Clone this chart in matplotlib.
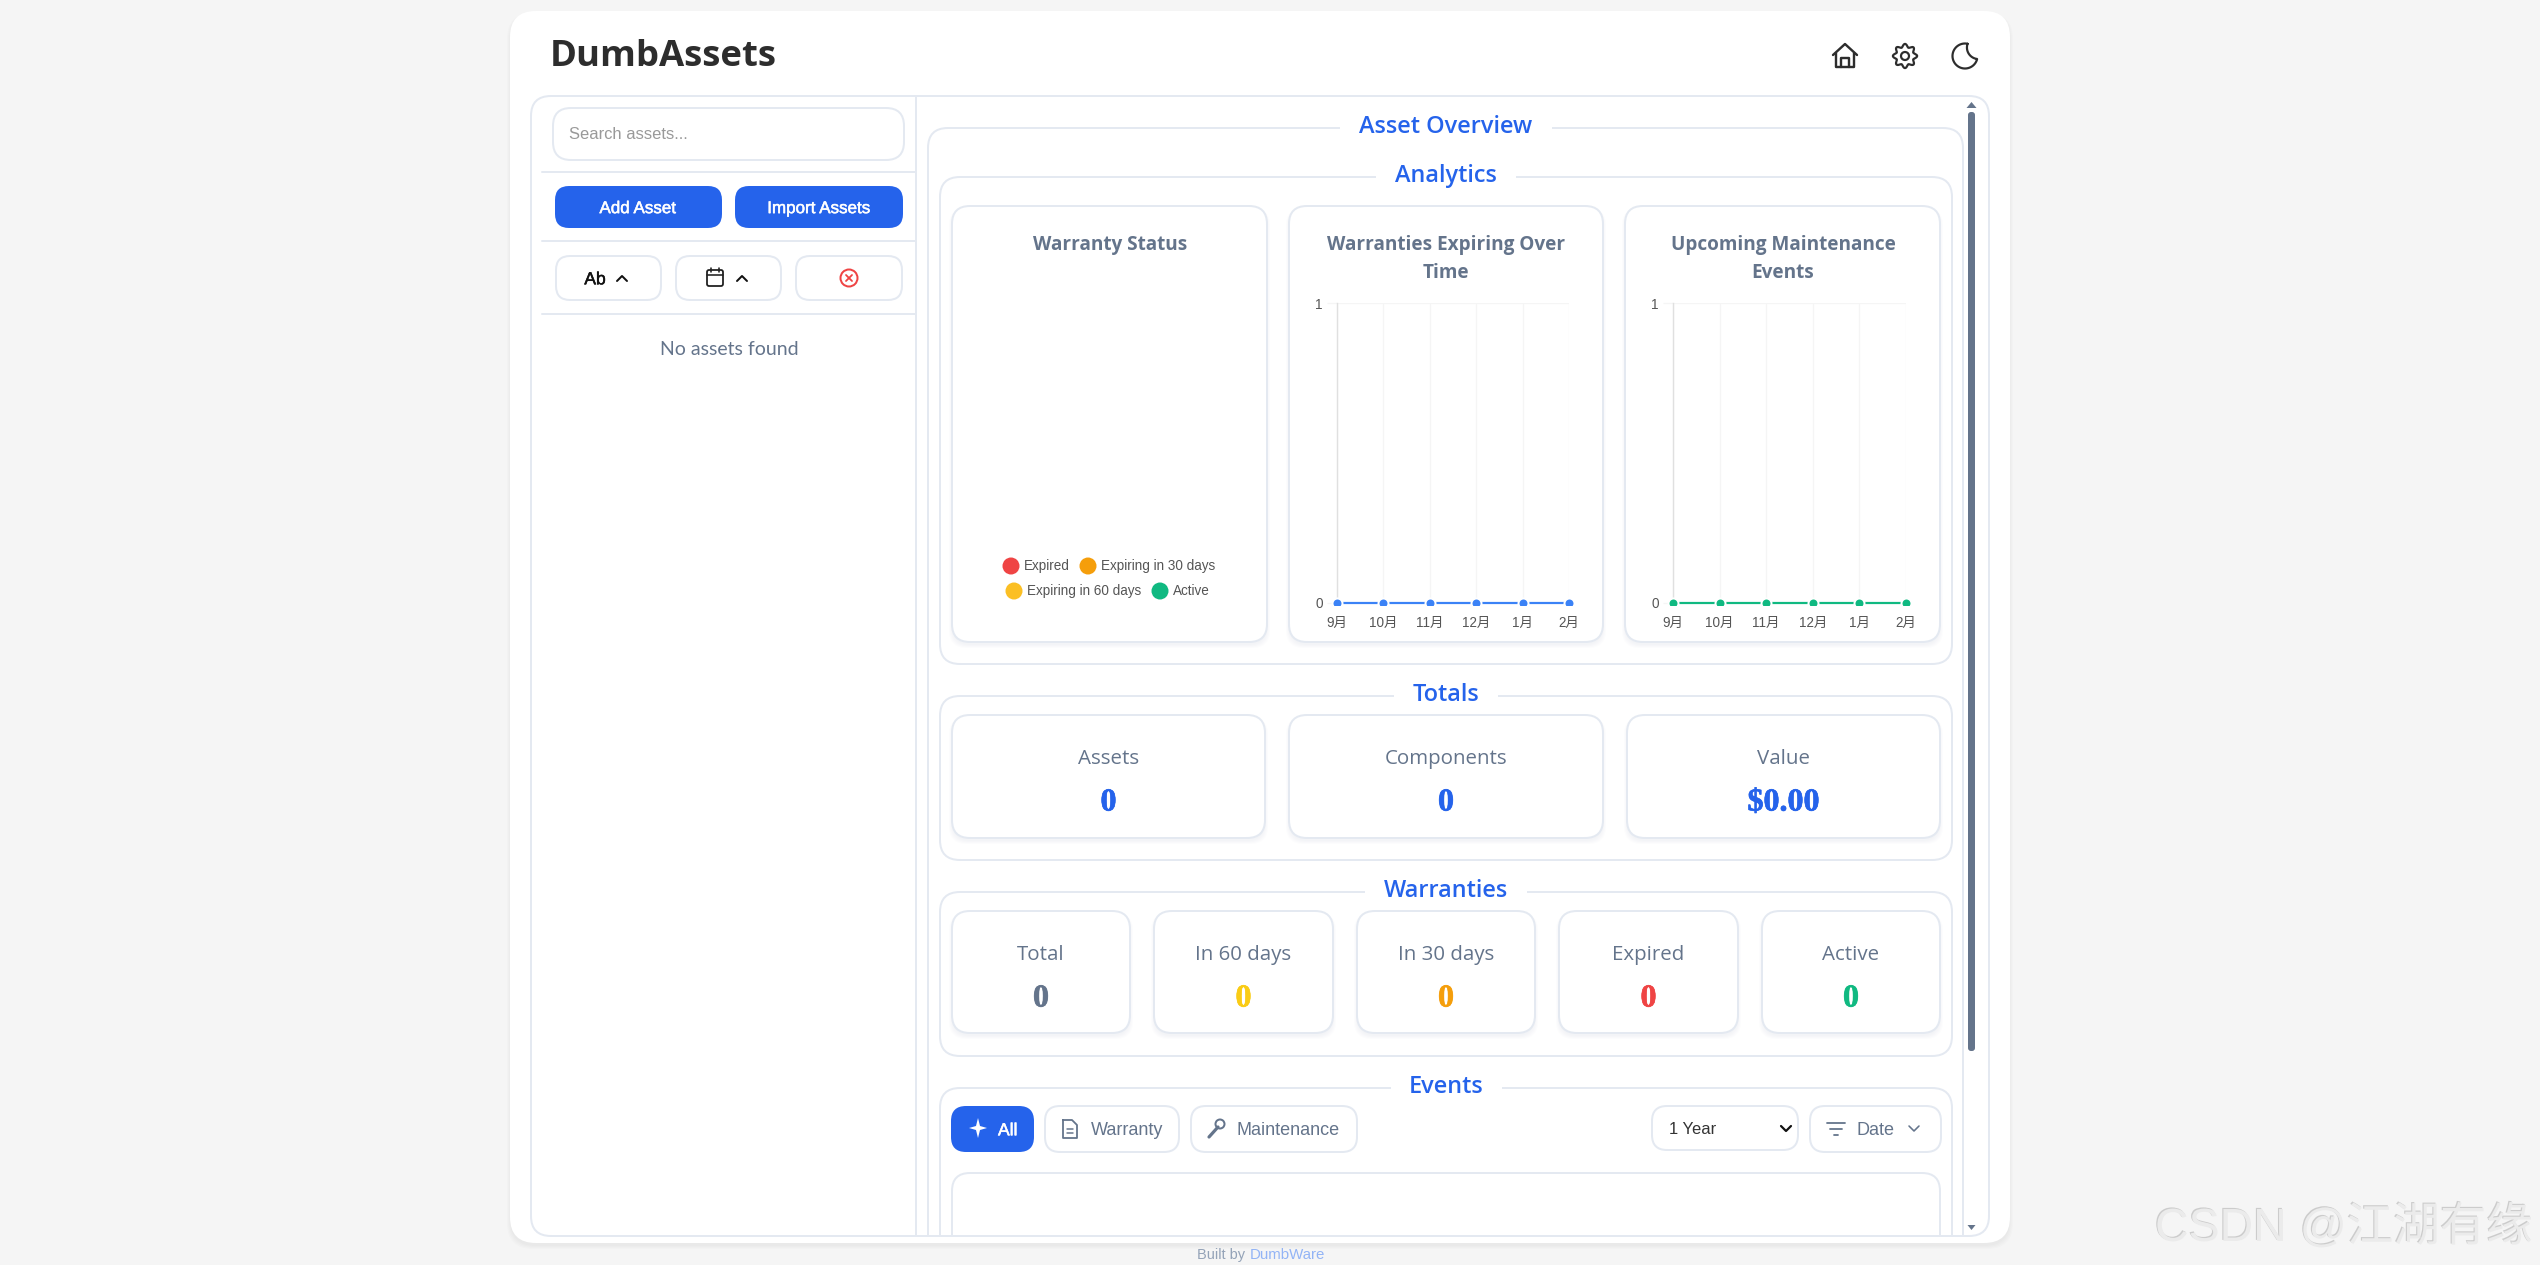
"""
DumbAssets dashboard screenshot, empty-state view.
All layout is in screen pixels on one full-figure axes, the charts get their own axes.
"""

import numpy as np
import matplotlib
matplotlib.use('Agg')
import matplotlib.pyplot as plt
import matplotlib.patheffects as pe
from matplotlib.patches import FancyBboxPatch, Circle, Polygon, Rectangle

W, H = 2540, 1265
PX = 0.72  # one pixel in points at dpi 100

# chart data
months = ['9月', '10月', '11月', '12月', '1月', '2月']
warranties_expiring = [0, 0, 0, 0, 0, 0]
maintenance_events = [0, 0, 0, 0, 0, 0]
warranty_labels = ['Expired', 'Expiring in 30 days', 'Expiring in 60 days', 'Active']
warranty_colors = ['#ef4444', '#f59e0b', '#fbbf24', '#10b981']

# stat cards
total_labels = ['Assets', 'Components', 'Value']
total_values = ['0', '0', '$0.00']
status_labels = ['Total', 'In 60 days', 'In 30 days', 'Expired', 'Active']
status_values = ['0', '0', '0', '0', '0']
status_colors = ['#64748b', '#facc15', '#f59e0b', '#ef4444', '#10b981']

BORDER = '#e4e9f1'
BLUE = '#2563eb'
SLATE = '#64748b'
UI_FONT = 'Open Sans'
ARIAL = 'Liberation Sans'

fig = plt.figure(figsize=(W / 100, H / 100), dpi=100, facecolor='#f5f5f5')
bg = fig.add_axes([0, 0, 1, 1])
bg.set_xlim(0, W)
bg.set_ylim(H, 0)
bg.axis('off')


def box(x0, y0, x1, y1, r=20, fc='white', ec=BORDER, lw=2, clip=None, z=2):
    p = FancyBboxPatch((x0, y0), x1 - x0, y1 - y0,
                       boxstyle=f'round,pad=0,rounding_size={r}',
                       fc=fc, ec=ec, lw=lw * PX, zorder=z)
    bg.add_patch(p)
    if clip is not None:
        p.set_clip_path(clip)
    return p


def shadow(x0, y0, x1, y1, r, clip=None, color='#94a3b8', z=2, strength=0.022):
    for k in (1, 2, 3, 4):
        p = FancyBboxPatch((x0 - k + 1, y0 + 2), x1 - x0 + 2 * k - 2, y1 - y0 + k,
                           boxstyle=f'round,pad=0,rounding_size={r}',
                           fc=color, ec='none', alpha=strength, zorder=z)
        bg.add_patch(p)
        if clip is not None:
            p.set_clip_path(clip)


def label(x, y, s, px, color=SLATE, family=UI_FONT, weight='normal', ha='center', z=6, stroke=0):
    # baseline placement keeps words with and without descenders on one line
    t = bg.text(x, y + 0.36 * px, s, fontsize=px * PX, color=color, family=family, weight=weight,
                ha=ha, va='baseline', zorder=z)
    if stroke:
        t.set_path_effects([pe.withStroke(linewidth=stroke, foreground=color)])
    return t


def line(xs, ys, color, lw=2, z=6):
    bg.plot(xs, ys, color=color, lw=lw * PX, solid_capstyle='round',
            solid_joinstyle='round', zorder=z)


def fieldset(x0, y0, x1, y1, title, gap0, gap1, clip):
    box(x0, y0, x1, y1, r=20, clip=clip, z=3)
    bg.add_patch(Rectangle((gap0, y0 - 3), gap1 - gap0, 6, fc='white', ec='none', zorder=4))
    label((gap0 + gap1) / 2, y0 - 3, title, 23.5, color=BLUE, weight='semibold')


def card(x0, y0, x1, y1, clip=None):
    shadow(x0, y0, x1, y1, 18, clip=clip, z=4)
    box(x0, y0, x1, y1, r=18, clip=clip, z=5)


# page card and its soft shadow
shadow(510, 11, 2010, 1243, 26, color='#000000', z=1, strength=0.012)
box(510, 11, 2010, 1243, r=26, ec='none', lw=0, z=1)
label(550, 53, 'DumbAssets', 36.5, color='#2d2d2d', weight='bold', ha='left')

# header icons
hx, hy = 1845, 56
line([hx - 12, hx, hx + 12], [hy - 1, hy - 12, hy - 1], '#2d2d2d', 2.4)
line([hx - 9, hx - 9, hx + 9, hx + 9], [hy - 3, hy + 11, hy + 11, hy - 3], '#2d2d2d', 2.4)
line([hx - 4, hx - 4, hx + 4, hx + 4], [hy + 11, hy + 2, hy + 2, hy + 11], '#2d2d2d', 2.4)

theta = np.linspace(0, 2 * np.pi, 200)
gear_r = 10.5 + 1.6 * np.cos(8 * theta)
line(1905 + gear_r * np.cos(theta), 56 + gear_r * np.sin(theta), '#2d2d2d', 2.2)
bg.add_patch(Circle((1905, 56), 4, fc='none', ec='#2d2d2d', lw=2.2 * PX, zorder=6))

a0 = np.radians(np.linspace(-78, -345, 60))
a1 = np.radians(np.linspace(97.4, 198.7, 40))
moon_x = np.r_[1965 + 12.5 * np.cos(a0), 1978.5 + 11.55 * np.cos(a1)]
moon_y = np.r_[56 + 12.5 * np.sin(a0), 47.5 + 11.55 * np.sin(a1)]
line(moon_x, moon_y, '#2d2d2d', 2.2)

# outer container, everything in the main pane is cut off at its bottom edge
frame = box(531, 96, 1989, 1236, r=20, ec='none', lw=0, z=2)

# sidebar
box(553, 108, 904, 160, r=18)
label(569, 133, 'Search assets...', 16.5, color='#999999', family=ARIAL, ha='left')
for y in (172, 241, 314):
    line([542, 916], [y, y], BORDER, 2, z=3)
box(555, 186, 722, 228, r=14, fc=BLUE, ec='none', lw=0)
box(735, 186, 903, 228, r=14, fc=BLUE, ec='none', lw=0)
label(638, 207, 'Add Asset', 17, color='white', family=ARIAL, stroke=0.35)
label(819, 207, 'Import Assets', 17, color='white', family=ARIAL, stroke=0.35)
box(556, 256, 661, 300, r=14)
box(676, 256, 781, 300, r=14)
box(796, 256, 902, 300, r=14)
label(595, 278, 'Ab', 17.5, color='#111111', family=ARIAL, stroke=0.35)
line([617, 622, 627], [281, 276, 281], '#111111', 2)
cx, cy = 715, 278
box(cx - 8, cy - 8, cx + 8, cy + 8, r=2, fc='none', ec='#222222', lw=1.8, z=6)
line([cx - 8, cx + 8], [cy - 3, cy - 3], '#222222', 1.6)
line([cx - 4, cx - 4], [cy - 10, cy - 6], '#222222', 1.6)
line([cx + 4, cx + 4], [cy - 10, cy - 6], '#222222', 1.6)
line([737, 742, 747], [281, 276, 281], '#111111', 2)
bg.add_patch(Circle((849, 278), 8.5, fc='none', ec='#ef4444', lw=2 * PX, zorder=6))
line([846, 852], [275, 281], '#ef4444', 1.8)
line([846, 852], [281, 275], '#ef4444', 1.8)
label(729, 348, 'No assets found', 19.5, family='Lato')

# main pane fieldsets
fieldset(928, 128, 1963, 1320, 'Asset Overview', 1340, 1552, frame)
fieldset(940, 177, 1952, 664, 'Analytics', 1376, 1516, frame)
fieldset(940, 696, 1952, 860, 'Totals', 1394, 1498, frame)
fieldset(940, 892, 1952, 1056, 'Warranties', 1365, 1527, frame)
fieldset(940, 1088, 1952, 1320, 'Events', 1391, 1502, frame)

# analytics cards
chart_cards = [(952, 1267), (1289, 1603), (1625, 1940)]
for x0, x1 in chart_cards:
    card(x0, 206, x1, 642)
label(1110, 243, 'Warranty Status', 19, weight='bold')
label(1446, 243, 'Warranties Expiring Over', 19, weight='bold')
label(1446, 271, 'Time', 19, weight='bold')
label(1783, 243, 'Upcoming Maintenance', 19, weight='bold')
label(1783, 271, 'Events', 19, weight='bold')

# warranty legend, two centred rows
legend_x = [1011, 1088, 1014, 1160]
legend_y = [566, 566, 591, 591]
for lab, col, mx, my in zip(warranty_labels, warranty_colors, legend_x, legend_y):
    bg.add_patch(Circle((mx, my), 8.5, fc=col, ec='none', zorder=6))
    label(mx + 13, my - 1, lab, 13.5, color='#555555', family=ARIAL, ha='left')


def line_chart(x0, x1, values, color):
    ax = fig.add_axes([x0 / W, 1 - 603 / H, (x1 - x0) / W, 300 / H], facecolor='none', zorder=5)
    pos = np.arange(len(months))
    ln, = ax.plot(pos, values, color=color, lw=2.2 * PX, marker='o', ms=10 * PX,
                  mfc=color, mec='white', mew=2 * PX, zorder=4)
    # the points are cut at the baseline but not at the left and right ends
    ln.set_clip_path(Rectangle((-0.06, -0.005), 1.12, 1.1, transform=ax.transAxes))
    ax.set_xlim(0, len(months) - 1)
    ax.set_ylim(0, 1)
    ax.set_xticks(pos, months)
    ax.set_yticks([0, 1], ['0', '1'])
    ax.grid(True, color='#f5f5f5', lw=1.2 * PX)
    ax.set_axisbelow(True)
    for side in ('top', 'right', 'bottom'):
        ax.spines[side].set_visible(False)
    ax.spines['left'].set_color('#e0e0e0')
    ax.spines['left'].set_linewidth(1.4 * PX)
    ax.tick_params(axis='x', length=0, pad=9, labelsize=13.5 * PX, labelcolor='#555555')
    ax.tick_params(axis='y', length=10 * PX, width=1.2 * PX, color='#f5f5f5', pad=3,
                   labelsize=13.5 * PX, labelcolor='#555555')
    for t in ax.get_xticklabels():
        t.set_family([ARIAL, 'Noto Sans CJK SC'])
    for t in ax.get_yticklabels():
        t.set_family(ARIAL)
    return ax


line_chart(1337, 1569, warranties_expiring, '#3b82f6')
line_chart(1673, 1906, maintenance_events, '#10b981')

# totals
total_x = [(952, 1265), (1289, 1603), (1627, 1940)]
for (x0, x1), lab, val in zip(total_x, total_labels, total_values):
    card(x0, 715, x1, 838)
    label((x0 + x1) / 2, 757, lab, 20.5)
    label((x0 + x1) / 2, 799, val, 32, color=BLUE, family='Liberation Serif', weight='bold', stroke=0.5)

# warranties
status_x = [(952, 1130), (1154, 1333), (1357, 1535), (1559, 1738), (1762, 1940)]
for (x0, x1), lab, val, col in zip(status_x, status_labels, status_values, status_colors):
    card(x0, 911, x1, 1033)
    label((x0 + x1) / 2, 953, lab, 20.5)
    label((x0 + x1) / 2, 995, val, 32, color=col, family='Liberation Serif', weight='bold', stroke=0.5)

# events toolbar
box(951, 1106, 1034, 1152, r=15, fc=BLUE, ec='none', lw=0, z=5)
box(1045, 1106, 1179, 1152, r=15, z=5)
box(1191, 1106, 1357, 1152, r=15, z=5)
box(1652, 1106, 1798, 1150, r=15, z=5)
box(1810, 1106, 1941, 1152, r=15, z=5)
box(952, 1173, 1940, 1320, r=18, clip=frame, z=5)

sx, sy = 978, 1128
bg.add_patch(Polygon([(sx, sy - 10), (sx + 2, sy - 2), (sx + 9, sy), (sx + 2, sy + 2), (sx, sy + 10),
                      (sx - 2, sy + 2), (sx - 9, sy), (sx - 2, sy - 2)],
                     fc='white', ec='none', zorder=6))
label(998, 1129, 'All', 17.5, color='white', family=ARIAL, ha='left', stroke=0.35)

dx, dy = 1070, 1129
line([dx - 7, dx - 7, dx + 7, dx + 7, dx + 2, dx - 7], [dy - 9, dy + 9, dy + 9, dy - 4, dy - 9, dy - 9], SLATE, 1.8)
line([dx - 3, dx + 3], [dy, dy], SLATE, 1.5)
line([dx - 3, dx + 3], [dy + 4, dy + 4], SLATE, 1.5)
label(1091, 1129, 'Warranty', 18, family=ARIAL, ha='left')

wx, wy = 1216, 1129
line([wx - 7, wx + 2], [wy + 8, wy - 2], SLATE, 3.2)
bg.add_patch(Circle((wx + 4, wy - 5), 4.5, fc='none', ec=SLATE, lw=2 * PX, zorder=6))
label(1237, 1129, 'Maintenance', 18, family=ARIAL, ha='left')

label(1669, 1128, '1 Year', 16.5, color='#333333', family=ARIAL, ha='left')
line([1781, 1786, 1791], [1126, 1131, 1126], '#111111', 2.2)

line([1827, 1845], [1123, 1123], SLATE, 1.8)
line([1830, 1842], [1129, 1129], SLATE, 1.8)
line([1834, 1838], [1135, 1135], SLATE, 1.8)
label(1856, 1129, 'Date', 18, family=ARIAL, ha='left')
line([1909, 1914, 1919], [1126, 1131, 1126], SLATE, 1.6)

# frame lines drawn last so the clipped contents sit under them
box(531, 96, 1989, 1236, r=20, fc='none', z=7)
line([916, 916], [97, 1235], BORDER, 2, z=7)

# scrollbar
bg.add_patch(Polygon([(1966.5, 108), (1976.5, 108), (1971.5, 102)], fc=SLATE, ec='none', zorder=8))
bg.add_patch(Polygon([(1967.5, 1225), (1975.5, 1225), (1971.5, 1230)], fc=SLATE, ec='none', zorder=8))
box(1968, 112, 1975, 1051, r=3, fc=SLATE, ec='none', lw=0, z=8)

# footer
label(1197, 1254, 'Built by', 14.5, color='#94a3b8', family=ARIAL, ha='left')
label(1250, 1254, 'DumbWare', 15, color='#93b4f5', family=ARIAL, ha='left')

# watermark
wm = bg.text(2155, 1241, 'CSDN @江湖有缘', fontsize=46.5 * PX, color='#ebebeb',
             family=[ARIAL, 'Noto Sans CJK SC'], ha='left', va='baseline', zorder=9)
wm.set_path_effects([pe.withSimplePatchShadow(offset=(-0.8, 0.8), shadow_rgbFace='#cccccc', alpha=1.0)])

fig.savefig('out.png', dpi=100, facecolor=fig.get_facecolor())
